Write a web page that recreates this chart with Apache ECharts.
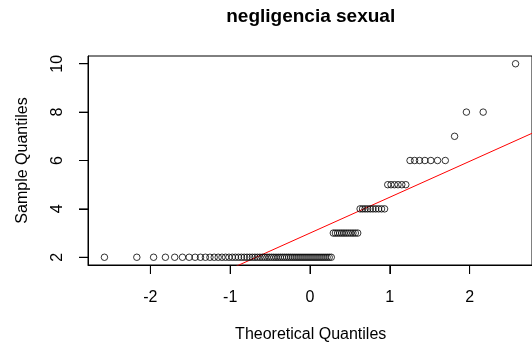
<!DOCTYPE html>
<html>
<head>
<meta charset="utf-8">
<script src="https://cdn.jsdelivr.net/npm/echarts@6/dist/echarts.min.js"></script>
<style>
  html, body { margin: 0; padding: 0; background: #fff; }
  #chart { width: 532px; height: 351px; }
</style>
</head>
<body>
<div id="chart"></div>
<script>
// Observed scores and how many times each occurs (n = 100)
const scoreValues = [2, 3, 4, 5, 6, 7, 8, 10];
const scoreCounts = [61, 12, 10, 6, 7, 1, 2, 1];

// Tick positions
const xTicks = [-2, -1, 0, 1, 2];
const yTicks = [2, 4, 6, 8, 10];

const titleText = 'negligencia sexual';
const xTitle = 'Theoretical Quantiles';
const yTitle = 'Sample Quantiles';

// Inverse standard normal CDF (Acklam's rational approximation)
function qnorm(p) {
  const a = [-3.969683028665376e+01, 2.209460984245205e+02, -2.759285104469687e+02,
             1.383577518672690e+02, -3.066479806614716e+01, 2.506628277459239e+00];
  const b = [-5.447609879822406e+01, 1.615858368580409e+02, -1.556989798598866e+02,
             6.680131188771972e+01, -1.328068155288572e+01];
  const c = [-7.784894002430293e-03, -3.223964580411365e-01, -2.400758277161838e+00,
             -2.549732539343734e+00, 4.374664141464968e+00, 2.938163982698783e+00];
  const d = [7.784695709041462e-03, 3.224671290700398e-01, 2.445134137142996e+00,
             3.754408661907416e+00];
  const pl = 0.02425, ph = 1 - pl;
  let q, r;
  if (p < pl) {
    q = Math.sqrt(-2 * Math.log(p));
    return (((((c[0]*q+c[1])*q+c[2])*q+c[3])*q+c[4])*q+c[5]) /
           ((((d[0]*q+d[1])*q+d[2])*q+d[3])*q+1);
  }
  if (p <= ph) {
    q = p - 0.5; r = q * q;
    return (((((a[0]*r+a[1])*r+a[2])*r+a[3])*r+a[4])*r+a[5])*q /
           (((((b[0]*r+b[1])*r+b[2])*r+b[3])*r+b[4])*r+1);
  }
  q = Math.sqrt(-2 * Math.log(1 - p));
  return -(((((c[0]*q+c[1])*q+c[2])*q+c[3])*q+c[4])*q+c[5]) /
          ((((d[0]*q+d[1])*q+d[2])*q+d[3])*q+1);
}

// Sorted sample
const sample = [];
scoreValues.forEach((v, k) => { for (let j = 0; j < scoreCounts[k]; j++) sample.push(v); });
const n = sample.length;

// Normal Q-Q points: plotting positions (i - 0.5) / n
const qqPoints = sample.map((y, i) => [qnorm((i + 0.5) / n), y]);

// Reference line through the first and third quartiles
function quantile7(arr, p) {
  const h = (arr.length - 1) * p;
  const lo = Math.floor(h), hi = Math.ceil(h);
  return arr[lo] + (h - lo) * (arr[hi] - arr[lo]);
}
const y1 = quantile7(sample, 0.25), y3 = quantile7(sample, 0.75);
const x1 = qnorm(0.25), x3 = qnorm(0.75);
const slope = (y3 - y1) / (x3 - x1);
const intercept = y1 - slope * x1;

// Plot ranges padded 4% beyond the data
const xr = [qqPoints[0][0], qqPoints[n - 1][0]];
const xPad = (xr[1] - xr[0]) * 0.04;
const xMin = xr[0] - xPad, xMax = xr[1] + xPad;
const yr = [sample[0], sample[n - 1]];
const yPad = (yr[1] - yr[0]) * 0.04;
const yMin = yr[0] - yPad, yMax = yr[1] + yPad;

const linePoints = [[xMin, intercept + slope * xMin], [xMax, intercept + slope * xMax]];

const FONT = 'Liberation Sans, Arial, Helvetica, sans-serif';
const TICK_LEN = 9;
const gridLeft = 88, gridTop = 56, gridW = 445.5, gridH = 209;

const textItems = [
  { id: 'title', type: 'text', x: 310.7, y: 16.7, z: 100,
    style: { text: titleText, fill: '#000', font: 'bold 19px ' + FONT, textAlign: 'center', textVerticalAlign: 'middle' } },
  { id: 'xname', type: 'text', x: 310.7, y: 334.4, z: 100,
    style: { text: xTitle, fill: '#000', font: '16px ' + FONT, textAlign: 'center', textVerticalAlign: 'middle' } },
  { id: 'yname', type: 'text', x: 22.4, y: 160.5, rotation: Math.PI / 2, z: 100,
    style: { text: yTitle, fill: '#000', font: '16px ' + FONT, textAlign: 'center', textVerticalAlign: 'middle' } }
];

const tickLine = { color: '#000', width: 1 };

const chart = echarts.init(document.getElementById('chart'), null, { renderer: 'canvas' });
chart.setOption({
  animation: false,
  grid: {
    left: gridLeft, top: gridTop, width: gridW, height: gridH,
    show: true, borderColor: '#000', borderWidth: 1
  },
  xAxis: {
    type: 'value', min: xMin, max: xMax,
    splitLine: { show: false },
    axisLine: { show: true, onZero: false, lineStyle: tickLine },
    axisTick: { show: true, length: TICK_LEN, customValues: xTicks, lineStyle: tickLine },
    axisLabel: { customValues: xTicks, margin: 25, color: '#000', fontSize: 16, fontFamily: FONT }
  },
  yAxis: {
    type: 'value', min: yMin, max: yMax,
    splitLine: { show: false },
    axisLine: { show: true, onZero: false, lineStyle: tickLine },
    axisTick: { show: true, length: TICK_LEN, customValues: yTicks, lineStyle: tickLine },
    axisLabel: { customValues: yTicks, rotate: 90, margin: 22, color: '#000', fontSize: 16, fontFamily: FONT }
  },
  graphic: textItems,
  series: [
    {
      type: 'scatter', data: qqPoints, symbol: 'circle', symbolSize: 6.5,
      itemStyle: { color: 'rgba(0,0,0,0)', borderColor: '#000', borderWidth: 1 },
      emphasis: { disabled: true }, z: 3
    },
    {
      type: 'line', data: linePoints, showSymbol: false, symbol: 'none', clip: true,
      lineStyle: { color: '#ff0000', width: 1 }, z: 2
    }
  ]
});

// Outward tick marks on the frame, placed through the axes' own scales
const tickItems = [];
xTicks.forEach((v, k) => {
  const p = chart.convertToPixel({ xAxisIndex: 0, yAxisIndex: 0 }, [v, yMin]);
  if (p && isFinite(p[0]) && isFinite(p[1])) {
    tickItems.push({ id: 'xt' + k, type: 'rect', z: 100, silent: true,
      shape: { x: p[0] - 0.5, y: p[1], width: 1, height: TICK_LEN },
      style: { fill: '#000' } });
  }
});
yTicks.forEach((v, k) => {
  const p = chart.convertToPixel({ xAxisIndex: 0, yAxisIndex: 0 }, [xMin, v]);
  if (p && isFinite(p[0]) && isFinite(p[1])) {
    tickItems.push({ id: 'yt' + k, type: 'rect', z: 100, silent: true,
      shape: { x: p[0] - TICK_LEN, y: p[1] - 0.5, width: TICK_LEN, height: 1 },
      style: { fill: '#000' } });
  }
});
chart.setOption({ graphic: textItems.concat(tickItems) });
</script>
</body>
</html>
